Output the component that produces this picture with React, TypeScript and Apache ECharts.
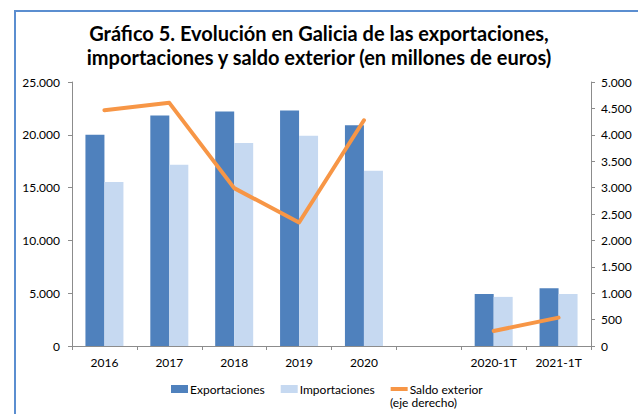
import React, { useEffect, useRef } from "react";
import * as echarts from "echarts";

const categories = ["2016", "2017", "2018", "2019", "2020", "", "2020-1T", "2021-1T"];
const exportaciones = [20000, 21820, 22200, 22290, 20900, null, 4930, 5470];
const importaciones = [15530, 17170, 19230, 19920, 16600, null, 4650, 4930];
const saldoExterior = [4465, 4605, 2990, 2340, 4275, null, 285, 537];
const leftTicks = [0, 5000, 10000, 15000, 20000, 25000];
const rightTicks = [0, 500, 1000, 1500, 2000, 2500, 3000, 3500, 4000, 4500, 5000];

const fmt = (v: number) => String(v).replace(/\B(?=(\d{3})+(?!\d))/g, ".");
const FONT = "Lato";

export default function App() {
  const ref = useRef<HTMLDivElement>(null);
  useEffect(() => {
    const chart = echarts.init(ref.current!, undefined, { renderer: "svg" });
    const axisLine = { show: true, lineStyle: { color: "#8c8c8c", width: 1 } };
    chart.setOption({
      animation: false,
      backgroundColor: "#ffffff",
      textStyle: { fontFamily: FONT },
      title: {
        text: "Gráfico 5. Evolución en Galicia de las exportaciones,\nimportaciones y saldo exterior (en millones de euros)",
        left: "center",
        top: 16,
        textStyle: { fontFamily: FONT, fontSize: 20, fontWeight: "bold", color: "#000", lineHeight: 24 },
      },
      legend: {
        left: 166,
        top: 378,
        itemWidth: 17,
        itemHeight: 8,
        itemGap: 16,
        textStyle: { fontFamily: FONT, fontSize: 12, color: "#000", padding: [0, 0, 0, -3] },
        data: [
          { name: "Exportaciones", icon: "rect" },
          { name: "Importaciones", icon: "rect" },
          { name: "Saldo exterior", icon: "path://M0,0 L17,0 L17,4 L0,4 Z", itemStyle: { color: "#F79646" } },
        ],
      },
      grid: { left: 72, right: 47, top: 82, bottom: 68 },
      xAxis: {
        type: "category",
        data: categories,
        boundaryGap: true,
        axisLine,
        axisTick: { show: true, length: 4, lineStyle: { color: "#8c8c8c" } },
        axisLabel: { fontFamily: FONT, fontSize: 12, color: "#000", margin: 10, interval: 0 },
      },
      yAxis: [
        {
          type: "value",
          min: leftTicks[0],
          max: leftTicks[leftTicks.length - 1],
          interval: 5000,
          axisLine,
          axisTick: { show: true, length: 4, lineStyle: { color: "#8c8c8c" } },
          splitLine: { show: false },
          axisLabel: { fontFamily: FONT, fontSize: 12, color: "#000", margin: 12, formatter: (v: number) => fmt(v) },
        },
        {
          type: "value",
          min: rightTicks[0],
          max: rightTicks[rightTicks.length - 1],
          interval: 500,
          position: "right",
          axisLine,
          axisTick: { show: true, length: 4, lineStyle: { color: "#8c8c8c" } },
          splitLine: { show: false },
          axisLabel: { fontFamily: FONT, fontSize: 12, color: "#000", margin: 10, formatter: (v: number) => fmt(v) },
        },
      ],
      series: [
        {
          name: "Exportaciones",
          type: "bar",
          data: exportaciones,
          barWidth: 19,
          barGap: "0%",
          itemStyle: { color: "#4F81BD" },
        },
        {
          name: "Importaciones",
          type: "bar",
          data: importaciones,
          barWidth: 19,
          barGap: "0%",
          itemStyle: { color: "#C6D9F1" },
        },
        {
          name: "Saldo exterior",
          type: "line",
          yAxisIndex: 1,
          data: saldoExterior,
          symbol: "none",
          connectNulls: false,
          lineStyle: { color: "#F79646", width: 4, cap: "round", join: "round" },
          itemStyle: { color: "#F79646" },
        },
      ],
      graphic: [
        { type: "line", shape: { x1: 14, y1: 11, x2: 638, y2: 11 }, style: { stroke: "#5B8ED0", lineWidth: 2 } },
        { type: "line", shape: { x1: 15, y1: 10, x2: 15, y2: 414 }, style: { stroke: "#5B8ED0", lineWidth: 2 } },
        {
          type: "text",
          left: 390,
          top: 396,
          style: { text: "(eje derecho)", fontFamily: FONT, fontSize: 12, fill: "#000" },
        },
      ],
    });
    return () => chart.dispose();
  }, []);
  return (
    <div
      ref={ref}
      style={{ position: "fixed", left: 0, top: 0, width: 638, height: 414, background: "#fff" }}
    />
  );
}
